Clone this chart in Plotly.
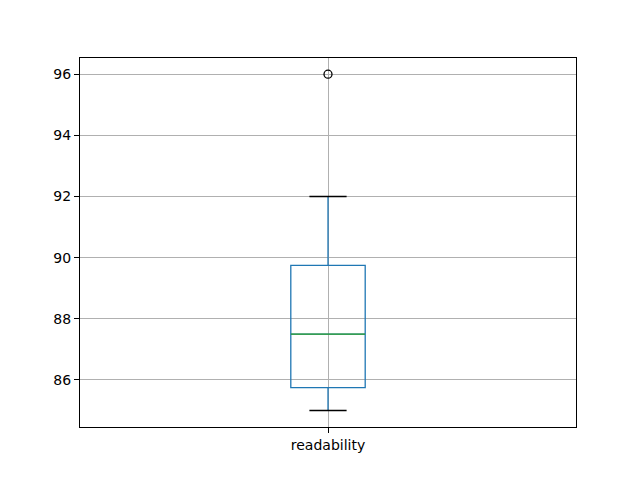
import plotly.graph_objects as go

# box statistics for the "readability" column
column = "readability"
lower_whisker = 85.0
q1 = 85.75
median = 87.5
q3 = 89.75
upper_whisker = 92.0
outliers = [96.0]

pos = 1
box_w = 0.15
cap_w = box_w / 2

fig = go.Figure()

fig.add_trace(go.Box(
    x=[pos], q1=[q1], median=[median], q3=[q3],
    lowerfence=[lower_whisker], upperfence=[upper_whisker],
    width=box_w, whiskerwidth=0, boxpoints=False,
    line=dict(color="#1f77b4", width=1.3),
    fillcolor="rgba(0,0,0,0)", hoverinfo="skip",
))

# median in green, drawn over the box's own median
fig.add_trace(go.Scatter(
    x=[pos - box_w / 2, pos + box_w / 2], y=[median, median],
    mode="lines", line=dict(color="#2ca02c", width=1.3), hoverinfo="skip",
))

# black caps
for v in (lower_whisker, upper_whisker):
    fig.add_trace(go.Scatter(
        x=[pos - cap_w / 2, pos + cap_w / 2], y=[v, v],
        mode="lines", line=dict(color="black", width=1.3), hoverinfo="skip",
    ))

# fliers
fig.add_trace(go.Scatter(
    x=[pos] * len(outliers), y=outliers, mode="markers",
    marker=dict(symbol="circle-open", size=8, color="black", line=dict(width=1.3)),
    hoverinfo="skip",
))

axis_common = dict(
    showline=True, mirror=True, linecolor="black", linewidth=1,
    ticks="outside", ticklen=5, tickcolor="black", tickwidth=1,
    showgrid=True, gridcolor="#b0b0b0", gridwidth=1, zeroline=False,
    tickfont=dict(family="DejaVu Sans", size=14, color="black"),
)

fig.update_xaxes(range=[0.5, 1.5], tickvals=[pos], ticktext=[column], **axis_common)
fig.update_yaxes(range=[84.46, 96.53], tickvals=[86, 88, 90, 92, 94, 96], **axis_common)

# page body adds an 8px offset, so the figure is a bit smaller than the window
fig.update_layout(
    width=632, height=472,
    margin=dict(l=72, r=64, t=50, b=53),
    plot_bgcolor="white", paper_bgcolor="white",
    showlegend=False, hovermode=False,
)

fig.write_html("out.html")
